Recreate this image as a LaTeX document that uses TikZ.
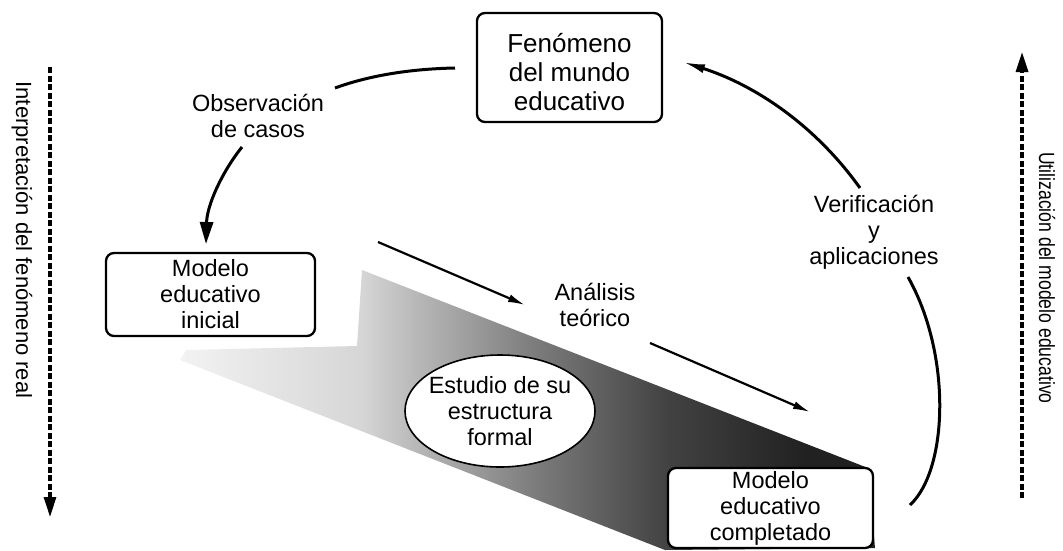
\documentclass[tikz,border=0pt]{standalone}
\usepackage{fontspec}
\setmainfont{Liberation Sans}
\usetikzlibrary{arrows.meta,shapes.geometric}
\pgfdeclarehorizontalshading{bandshade}{100bp}{color(0bp)=(black!5); color(25bp)=(black!5); color(38bp)=(black!16); color(42bp)=(black!28); color(50bp)=(black!50); color(60bp)=(black!74); color(70bp)=(black!87); color(100bp)=(black!90)}
\begin{document}
\begin{tikzpicture}[x=1pt,y=-1pt,
  txt/.style={text=black, align=center, inner sep=0pt, font=\fontsize{23.5}{26}\selectfont},
  bigtxt/.style={text=black, align=center, inner sep=0pt, font=\fontsize{26}{29}\selectfont},
  sidetxt/.style={text=black, inner sep=0pt, rotate=-90, font=\fontsize{22}{26}\selectfont},
  box/.style={draw=black, line width=2.3pt, rounded corners=8pt, fill=white},
  arc/.style={draw=black, line width=3pt},
  straight/.style={draw=black, line width=2.2pt, -{Latex[length=17pt,width=8pt]}},
  dashline/.style={draw=black, line width=3.2pt, dash pattern=on 6pt off 2.5pt}
]
\useasboundingbox (0,0) rectangle (1063,550);

% shaded band
\shade[shading=bandshade] (362,270) -- (868,468) -- (875,548) -- (665,550) -- (180,360) -- (186,350) -- (357,346) -- cycle;

% ellipse
\node[ellipse, draw=black, line width=1.6pt, fill=white, minimum width=190pt, minimum height=112pt, inner sep=0pt] (est) at (500,411) {};
\node[txt] (esttxt) at (est) {Estudio de su\\estructura\\formal};

% boxes
\node[box, minimum width=185pt, minimum height=109pt] (top) at (569.5,67.5) {};
\node[bigtxt] (toptxt) at (569.5,72) {Fenómeno\\del mundo\\educativo};
\node[box, txt, minimum width=209pt, minimum height=83pt] (ini) at (210.5,294.5) {Modelo\\educativo\\inicial};
\node[box, txt, minimum width=205pt, minimum height=80pt] (comp) at (770.5,508) {Modelo\\educativo\\completado};

% labels
\node[txt] (obs) at (258,116) {Observación\\de casos};
\node[txt] (ana) at (595,305) {Análisis\\teórico};
\node[txt] (ver) at (874,232) {Verificación\\y\\aplicaciones};

% side labels
\node[sidetxt] (interp) at (22,240) {Interpretación del fenómeno real};
\node[sidetxt] (util) at (1047,278) {\scalebox{0.8}[1]{Utilización del modelo educativo}};

% coordinates for arc ends
\coordinate (a1) at (455,68);
\coordinate (a2) at (335,88);
\coordinate (b1) at (242,147);
\coordinate (b2) at (206,244);
\coordinate (c1) at (910,505);
\coordinate (c2) at (908,277);
\coordinate (d1) at (860,188);
\coordinate (d2) at (683,62);
\coordinate (s1) at (378,242);
\coordinate (s2) at (525,305);
\coordinate (s3) at (650,343);
\coordinate (s4) at (810,412);
\coordinate (l1) at (50,67);
\coordinate (l2) at (50,517);
\coordinate (r1) at (1022,498);
\coordinate (r2) at (1022,52);

% arcs
\draw[arc] (a1) .. controls (405,69) and (365,77) .. (a2);
\draw[arc, -{Triangle[width=13pt,length=22pt]}] (b1) .. controls (222,172) and (207,205) .. (b2);
\draw[arc] (c1) .. controls (948,470) and (952,355) .. (c2);
\draw[arc, -{Latex[length=22pt,width=9pt]}] (d1) .. controls (815,125) and (755,85) .. (d2);

% straight arrows
\draw[straight] (s1) -- (s2);
\draw[straight] (s3) -- (s4);

% dashed side arrows
\draw[dashline, -{Triangle[width=12pt,length=20pt]}] (l1) -- (l2);
\draw[dashline, -{Triangle[width=12pt,length=20pt]}] (r1) -- (r2);
\end{tikzpicture}
\end{document}
